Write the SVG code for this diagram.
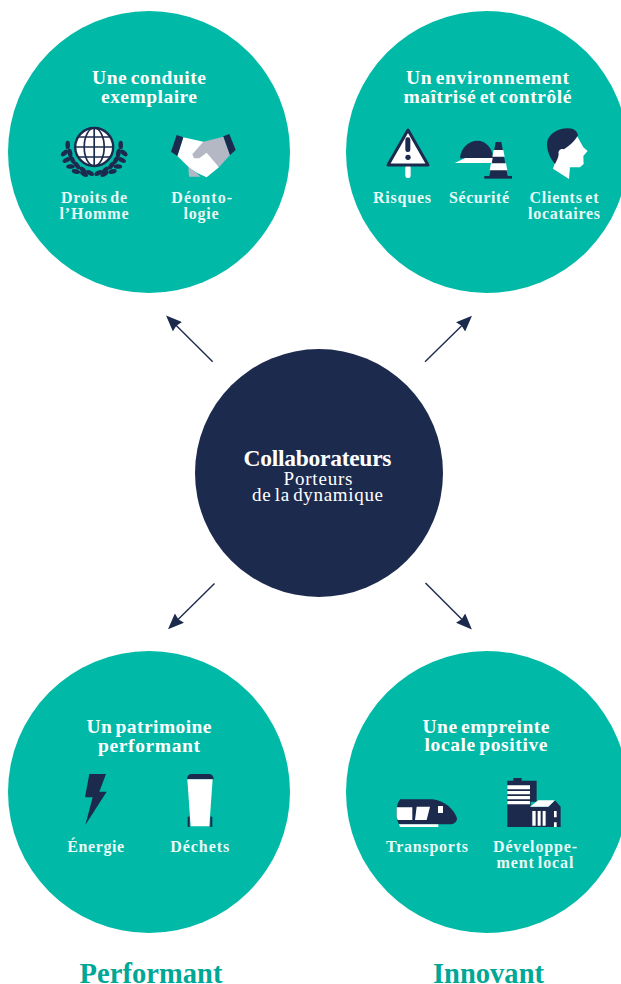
<svg xmlns="http://www.w3.org/2000/svg" width="621" height="984" viewBox="0 0 621 984">
<defs>
<marker id="ah" markerUnits="userSpaceOnUse" markerWidth="16" markerHeight="13" viewBox="0 0 16 13" refX="2" refY="6.5" orient="auto"><path d="M16,6.5 L0,0 L1.5,6.5 L0,13 Z" fill="#1c2a4e"/></marker>
<ellipse id="leaf" cx="0" cy="0" rx="4.300" ry="2.300" fill="#1c2a4e"/>
</defs>
<style>
.teal{fill:#00b9a7}
.navy{fill:#1c2a4e}
.wh{fill:#fff}
.grey{fill:#b3b8c4}
text{font-family:"Liberation Serif",serif;text-anchor:middle;fill:#fff;word-spacing:-2px}
.t{font-size:19.500px;font-weight:700}
.l{font-size:16px;font-weight:700;fill:#eafaf7}
.h{font-size:23.500px;font-weight:700}
.s{font-size:19px}
.f{font-size:28.500px;font-weight:700;fill:#00a796}
.a{stroke:#1c2a4e;stroke-width:1.4;fill:none;marker-end:url(#ah)}
</style>
<rect width="621" height="984" fill="#fff"/>
<g id="connectors">
<path class="a" d="M212.7,361.7 L176,325.3"/>
<path class="a" d="M425,361.7 L462,325.5"/>
<path class="a" d="M214.5,583.5 L178,619.5"/>
<path class="a" d="M425.5,583 L462,619.5"/>
</g>
<g id="center">
<circle cx="319" cy="473" r="124" class="navy"/>
<text class="h" x="317.500" y="466" textLength="148" lengthAdjust="spacing">Collaborateurs</text>
<text class="s" x="318" y="485" textLength="69" lengthAdjust="spacing">Porteurs</text>
<text class="s" x="317.500" y="501" textLength="131" lengthAdjust="spacing">de la dynamique</text>
</g>
<g id="node-conduite">
<circle cx="149" cy="152" r="141" class="teal"/>
<text class="t" x="149" y="84" textLength="114" lengthAdjust="spacing">Une conduite</text>
<text class="t" x="149" y="103" textLength="96" lengthAdjust="spacing">exemplaire</text>
<g id="icon-droits">
<circle cx="94.200" cy="147" r="19" fill="#fff" stroke="#1c2a4e" stroke-width="2.400"/>
<g fill="none" stroke="#1c2a4e" stroke-width="1.700">
<ellipse cx="94.200" cy="147" rx="10" ry="19"/>
<path d="M94.200,128V166M75.200,147H113.200M78,137H110.400M78,157H110.400"/>
</g>
<use href="#leaf" transform="translate(67.700,145) rotate(-90)"/>
<use href="#leaf" transform="translate(64.500,153) rotate(-40)"/>
<use href="#leaf" transform="translate(70,153) rotate(-100)"/>
<use href="#leaf" transform="translate(66.500,160) rotate(-25)"/>
<use href="#leaf" transform="translate(72.500,160) rotate(-115)"/>
<use href="#leaf" transform="translate(70.500,166.500) rotate(-5)"/>
<use href="#leaf" transform="translate(77,165.500) rotate(-125)"/>
<use href="#leaf" transform="translate(76,171.500) rotate(15)"/>
<use href="#leaf" transform="translate(83,170) rotate(-135)"/>
<use href="#leaf" transform="translate(84,174) rotate(30)"/>
<use href="#leaf" transform="translate(90,173) rotate(-150)"/>
<use href="#leaf" transform="translate(120.700,145) rotate(90)"/>
<use href="#leaf" transform="translate(123.900,153) rotate(40)"/>
<use href="#leaf" transform="translate(118.400,153) rotate(100)"/>
<use href="#leaf" transform="translate(121.900,160) rotate(25)"/>
<use href="#leaf" transform="translate(115.900,160) rotate(115)"/>
<use href="#leaf" transform="translate(117.900,166.500) rotate(5)"/>
<use href="#leaf" transform="translate(111.400,165.500) rotate(125)"/>
<use href="#leaf" transform="translate(112.400,171.500) rotate(-15)"/>
<use href="#leaf" transform="translate(105.400,170) rotate(135)"/>
<use href="#leaf" transform="translate(104.400,174) rotate(-30)"/>
<use href="#leaf" transform="translate(98.400,173) rotate(150)"/>
</g>
<g id="icon-deonto" transform="translate(40 60) scale(.3333)">
<path class="grey" d="M445,318 L447,350 L482,350 Z"/>
<path class="wh" d="M430,232 L490,245 L525,300 L537,322 L500,352 L470,338 L445,320 L412,288 Z"/>
<path class="grey" d="M550,230 L490,245 L457,283 L462,295 L478,295 L500,278 L537,322 L570,285 Z"/>
<path class="navy" d="M410,225 L430,232 L412,288 L393,275 Z"/>
<path class="navy" d="M550,229 L568,222 L587,270 L570,285 Z"/>
</g>
<text class="l" x="94" y="203" textLength="66" lengthAdjust="spacing">Droits de</text>
<text class="l" x="94" y="219" textLength="69" lengthAdjust="spacing">l’Homme</text>
<text class="l" x="201.700" y="203" textLength="61" lengthAdjust="spacing">Déonto-</text>
<text class="l" x="201" y="219" textLength="35" lengthAdjust="spacing">logie</text>
</g>
<g id="node-environnement">
<circle cx="487" cy="152" r="141" class="teal"/>
<text class="t" x="487.500" y="84" textLength="163" lengthAdjust="spacing">Un environnement</text>
<text class="t" x="487.500" y="103" textLength="168" lengthAdjust="spacing">maîtrisé et contrôlé</text>
<g transform="translate(370 60) scale(.3333)">
<g id="icon-risques">
<rect x="106" y="316" width="16" height="38" rx="7" class="wh"/>
<path d="M114,210 L174,315 H54 Z" fill="#fff" stroke="#1c2a4e" stroke-width="9" stroke-linejoin="round"/>
<rect x="106" y="232" width="15" height="44" rx="7" class="navy"/>
<circle cx="114" cy="292" r="8" class="navy"/>
</g>
<g id="icon-securite">
<path class="navy" d="M270,295 C272,262 298,242 322,242 C348,242 368,265 370,295 Z"/>
<path class="wh" d="M254,309 L286,294 H370 V309 Z"/>
<path class="navy" d="M377,246 H394 L413,349 H358 Z"/>
<path class="wh" d="M371,270 H400 L404,290 H367 Z M363,310 H408 L412,331 H359 Z"/>
<rect x="343" y="348" width="83" height="8" class="navy"/>
</g>
<g id="icon-clients">
<path class="wh" d="M618,222 L640,262 L653,273 L640,288 L641,312 L630,322 L600,322 L597,357 L549,326 L558,300 L560,270 L600,230 Z"/>
<path class="navy" d="M531,248 C535,222 565,204 595,205 C612,205 622,214 624,226 C612,248 596,258 582,268 C572,264 564,272 566,282 C566,292 560,302 555,312 C540,295 530,270 531,248 Z"/>
</g>
</g>
<text class="l" x="402" y="203" textLength="58" lengthAdjust="spacing">Risques</text>
<text class="l" x="479" y="203" textLength="60" lengthAdjust="spacing">Sécurité</text>
<text class="l" x="564" y="203" textLength="69" lengthAdjust="spacing">Clients et</text>
<text class="l" x="564" y="219" textLength="72" lengthAdjust="spacing">locataires</text>
</g>
<g id="node-patrimoine">
<circle cx="149" cy="792" r="141" class="teal"/>
<text class="t" x="149" y="733" textLength="125" lengthAdjust="spacing">Un patrimoine</text>
<text class="t" x="149" y="752" textLength="102" lengthAdjust="spacing">performant</text>
<g transform="translate(50 710) scale(.3333)">
<path id="icon-energie" class="navy" d="M118,192 H168 L148,245 H170 L106,345 L128,262 H105 Z"/>
<g id="icon-dechets">
<path class="navy" d="M411,208 C411,198 416,192 426,192 H476 C486,192 491,198 491,208 Z"/>
<rect x="413" y="320" width="6" height="31" class="navy"/>
<rect x="481" y="320" width="6" height="31" class="navy"/>
<path class="wh" d="M412,208 H488 L478,349 H422 Z"/>
</g>
</g>
<text class="l" x="95.700" y="852" textLength="57" lengthAdjust="spacing">Énergie</text>
<text class="l" x="199.700" y="852" textLength="59" lengthAdjust="spacing">Déchets</text>
</g>
<g id="node-empreinte">
<circle cx="487" cy="792" r="141" class="teal"/>
<text class="t" x="486" y="733" textLength="127" lengthAdjust="spacing">Une empreinte</text>
<text class="t" x="486" y="751" textLength="123" lengthAdjust="spacing">locale positive</text>
<g transform="translate(375 710) scale(.3333)">
<g id="icon-transports">
<path class="navy" d="M76,268 H172 C208,272 238,298 246,325 C246,338 235,343 225,343 H72 C68,335 66,330 65,322 L65,296 C67,282 70,274 76,268 Z"/>
<path class="wh" d="M65,292 H112 V330 H68 L65,322 Z M125,290 H165 L155,330 H120 Z"/>
<rect x="189" y="288" width="15" height="21" class="wh"/>
<path class="wh" d="M72,343 H190 V351 H75 Z"/>
</g>
<g id="icon-developpement">
<path class="navy" d="M397,212 H415 V204 H440 V212 H485 V275 H397 Z"/>
<rect x="397" y="270" width="70" height="81" class="navy"/>
<path class="wh" d="M397,226 H465 V238 H397 Z M397,243 H465 V253 H397 Z M397,258 H465 V268 H397 Z M397,273 H465 V283 H397 Z"/>
<path class="navy" d="M465,290 H520 L540,271 L557,290 V351 H465 Z"/>
<path class="wh" d="M465,290 L490,271 H540 L520,290 Z"/>
<path class="wh" d="M472,303 H482 V347 H472 Z M488,303 H497 V347 H488 Z M503,303 H512 V347 H503 Z M537,303 H545 V322 H537 Z M537,337 H545 V351 H537 Z"/>
</g>
</g>
<text class="l" x="427" y="852" textLength="82" lengthAdjust="spacing">Transports</text>
<text class="l" x="535" y="852" textLength="84" lengthAdjust="spacing">Développe-</text>
<text class="l" x="535" y="868" textLength="77" lengthAdjust="spacing">ment local</text>
</g>
<g id="captions">
<text class="f" x="151" y="983" textLength="143" lengthAdjust="spacing">Performant</text>
<text class="f" x="488.500" y="983" textLength="111" lengthAdjust="spacing">Innovant</text>
</g>
</svg>
